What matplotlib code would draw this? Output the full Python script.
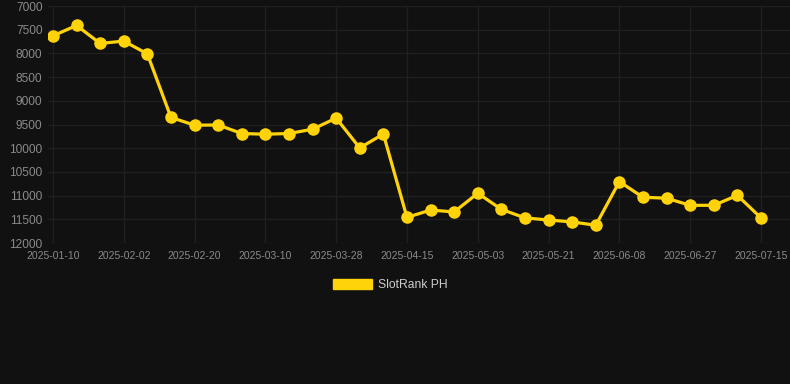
#
#       SLOTRANK PH  - rank over time
#
#--------------------------------------------------------60

from matplotlib import pyplot as plt
from matplotlib.patches import Patch
import numpy as np

#--------------------------------------------------------60
# Data

dates = ['2025-01-10', '2025-01-18', '2025-01-26', '2025-02-02',
         '2025-02-08', '2025-02-14', '2025-02-20', '2025-02-26',
         '2025-03-04', '2025-03-10', '2025-03-16', '2025-03-22',
         '2025-03-28', '2025-04-03', '2025-04-09', '2025-04-15',
         '2025-04-21', '2025-04-27', '2025-05-03', '2025-05-09',
         '2025-05-15', '2025-05-21', '2025-05-27', '2025-06-02',
         '2025-06-08', '2025-06-14', '2025-06-21', '2025-06-27',
         '2025-07-03', '2025-07-09', '2025-07-15']

rank = [7630, 7410, 7790, 7740, 8010, 9350, 9515, 9510,
        9690, 9705, 9690, 9600, 9365, 9995, 9700, 11460,
        11305, 11345, 10950, 11290, 11470, 11515, 11555, 11625,
        10705, 11035, 11055, 11205, 11205, 10995, 11470]

yticks = [7000, 7500, 8000, 8500, 9000, 9500, 10000, 10500,
          11000, 11500, 12000]

series_name = 'SlotRank PH'

#--------------------------------------------------------60

bg = '#111111'
gold = '#FFD30A'
gridc = '#202020'
txtc = '#8a8a8a'

plt.rcParams['font.family'] = ['Liberation Sans', 'DejaVu Sans']

fig = plt.figure(figsize=(7.9, 3.84), dpi=100, facecolor=bg)
ax = fig.add_axes([48/790., 1-243/384., 1-48/790., (243-6)/384.])
ax.set_facecolor(bg)

x = np.arange(len(dates))
ax.plot(x, rank, color=gold, lw=2.3, marker='o', ms=8,
        markeredgecolor=gold, zorder=3)

ax.set_ylim(12000, 7000)
ax.set_yticks(yticks)
ax.set_yticklabels([str(v) for v in yticks])
ax.set_xlim(-0.21, len(dates)-1+1.23)
ax.set_xticks(x[::3])
ax.set_xticklabels(dates[::3])

ax.grid(True, color=gridc, lw=1)
for s in ax.spines.values():
    s.set_visible(False)
ax.tick_params(axis='y', colors=txtc, labelsize=8.6, length=0, pad=4)
ax.tick_params(axis='x', colors=txtc, labelsize=7.5, length=0, pad=6)

#-------------------------------------
# Legend below the plot

leg = fig.legend(handles=[Patch(facecolor=gold, edgecolor=gold,
                                label=series_name)],
                 loc='center', bbox_to_anchor=(0.5-5/790., 1-285/384.),
                 frameon=False, fontsize=8.7, handlelength=3.2,
                 handleheight=0.85, handletextpad=0.5)
for t in leg.get_texts():
    t.set_color('#cccccc')

fig.savefig('out.png', dpi=100, facecolor=bg)
